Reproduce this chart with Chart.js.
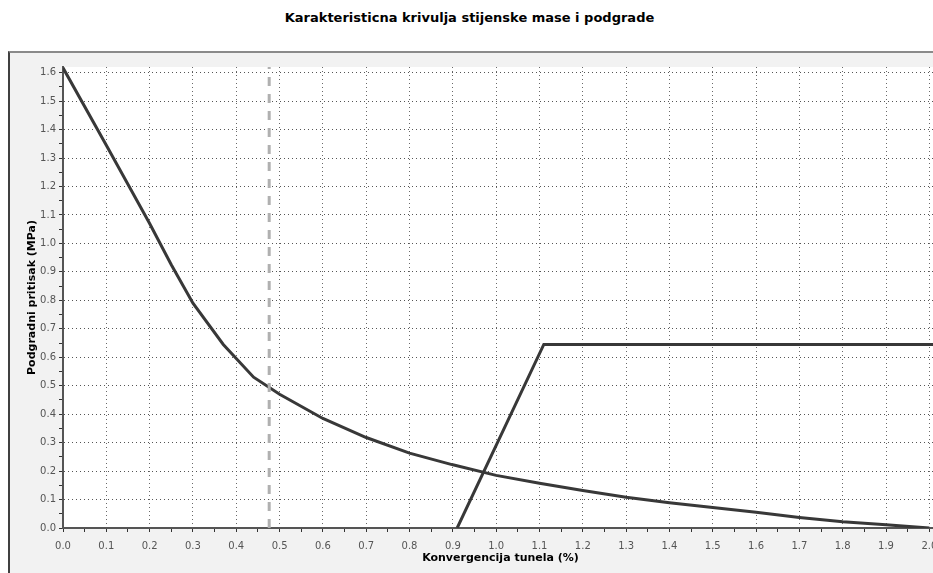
<!DOCTYPE html>
<html>
<head>
<meta charset="utf-8">
<title>Karakteristicna krivulja</title>
<script src="https://cdn.jsdelivr.net/npm/chart.js@4/dist/chart.umd.min.js"></script>
<style>
  body { margin: 0; background: #fff; overflow: hidden; width: 933px; height: 573px; position: relative; }
  #naslov {
    position: absolute; top: 10px; left: 0; width: 939px;
    text-align: center; font: bold 13px "DejaVu Sans", sans-serif; color: #000;
  }
  #okvir {
    position: absolute; left: 8px; top: 51px; width: 970px; height: 540px;
    border-top: 2px solid #8a8a8a; border-left: 2px solid #404040;
    background: #f2f2f2;
  }
  #grafik { display: block; }
</style>
</head>
<body>
<div id="naslov">Karakteristicna krivulja stijenske mase i podgrade</div>
<div id="okvir"><canvas id="grafik" width="960" height="530"></canvas></div>

<script>
// krivulja stijenske mase
var konvergencija = [0, 0.1, 0.2, 0.25, 0.3, 0.37, 0.44, 0.5, 0.6, 0.7, 0.8, 0.9, 1.0, 1.1, 1.2, 1.3, 1.4, 1.5, 1.6, 1.7, 1.8, 1.9, 2.0];
var pritisak = [1.617, 1.345, 1.07, 0.925, 0.79, 0.645, 0.53, 0.47, 0.385, 0.318, 0.263, 0.222, 0.185, 0.157, 0.132, 0.108, 0.089, 0.072, 0.055, 0.037, 0.022, 0.011, 0.0];

// krivulja podgrade
var podgrada_x = [0.91, 1.11, 2.02];
var podgrada_y = [0, 0.645, 0.645];

// isprekidana vertikalna linija
var linija_x = [0.476, 0.476];
var linija_y = [0, 1.62];

var x_oznake = ['0.0', '0.1', '0.2', '0.3', '0.4', '0.5', '0.6', '0.7', '0.8', '0.9', '1.0',
  '1.1', '1.2', '1.3', '1.4', '1.5', '1.6', '1.7', '1.8', '1.9', '2.0'];
var y_oznake = ['0.0', '0.1', '0.2', '0.3', '0.4', '0.5', '0.6', '0.7', '0.8',
  '0.9', '1.0', '1.1', '1.2', '1.3', '1.4', '1.5', '1.6'];

function tocke(xs, ys) {
  var out = [];
  for (var i = 0; i < xs.length; i++) {
    out.push({x: xs[i], y: ys[i]});
  }
  return out;
}

// glavne oznake + pola koraka izmedju njih
function napravi_tickove(oznake) {
  var t = [];
  for (var i = 0; i < oznake.length; i++) {
    var v = parseFloat(oznake[i]);
    t.push({value: v});
    if (i < oznake.length - 1) {
      t.push({value: Math.round((v + 0.05) * 100) / 100});
    }
  }
  return t;
}

function je_glavni(v) {
  return Math.abs(v * 10 - Math.round(v * 10)) < 1e-6;
}

var bijela_povrsina = {
  id: 'bijela_povrsina',
  beforeDraw: function(chart) {
    var a = chart.chartArea;
    var ctx = chart.ctx;
    ctx.save();
    ctx.fillStyle = '#ffffff';
    ctx.fillRect(a.left, a.top, a.right - a.left, a.bottom - a.top);
    ctx.restore();
  }
};

Chart.defaults.font.family = '"DejaVu Sans", Verdana, sans-serif';

var grafik = new Chart(document.getElementById('grafik'), {
  type: 'scatter',
  data: {
    datasets: [{
      data: tocke(linija_x, linija_y),
      showLine: true,
      borderColor: '#b0b0b0',
      borderWidth: 3,
      borderDash: [9, 8],
      pointRadius: 0
    }, {
      data: tocke(konvergencija, pritisak),
      showLine: true,
      borderColor: '#383838',
      borderWidth: 3,
      pointRadius: 0
    }, {
      data: tocke(podgrada_x, podgrada_y),
      showLine: true,
      borderColor: '#383838',
      borderWidth: 3,
      pointRadius: 0
    }]
  },
  options: {
    responsive: false,
    animation: false,
    layout: { padding: { top: 14, left: 0, right: 32, bottom: 10 } },
    plugins: {
      legend: { display: false },
      tooltip: { enabled: false }
    },
    scales: {
      x: {
        type: 'linear',
        min: 0,
        max: 2.02,
        afterBuildTicks: function(axis) { axis.ticks = napravi_tickove(x_oznake); },
        afterFit: function(axis) { axis.height = 45; },
        grid: {
          color: function(c) { return je_glavni(c.tick.value) ? '#6a6a6a' : 'rgba(0,0,0,0)'; },
          tickColor: '#333',
          tickLength: 4
        },
        border: { color: '#555', width: 2, dash: [1, 3] },
        ticks: {
          autoSkip: false,
          maxRotation: 0,
          color: '#555',
          font: { size: 10 },
          padding: 8,
          callback: function(v) { return je_glavni(v) ? v.toFixed(1) : ''; }
        },
        title: {
          display: true,
          text: 'Konvergencija tunela (%)',
          color: '#000',
          font: { size: 11, weight: 'bold' },
          padding: 8
        }
      },
      y: {
        type: 'linear',
        min: 0,
        max: 1.62,
        afterBuildTicks: function(axis) { axis.ticks = napravi_tickove(y_oznake); },
        afterFit: function(axis) { axis.width = 53; },
        grid: {
          color: function(c) { return je_glavni(c.tick.value) ? '#555' : 'rgba(0,0,0,0)'; },
          tickColor: '#333',
          tickLength: 4
        },
        border: { color: '#555', width: 2, dash: [1, 3] },
        ticks: {
          autoSkip: false,
          color: '#555',
          font: { size: 10 },
          padding: 3,
          callback: function(v) { return je_glavni(v) ? v.toFixed(1) : ''; }
        },
        title: {
          display: true,
          text: 'Podgradni pritisak (MPa)',
          color: '#000',
          font: { size: 11, weight: 'bold' },
          padding: 16
        }
      }
    }
  },
  plugins: [bijela_povrsina]
});
</script>
</body>
</html>
